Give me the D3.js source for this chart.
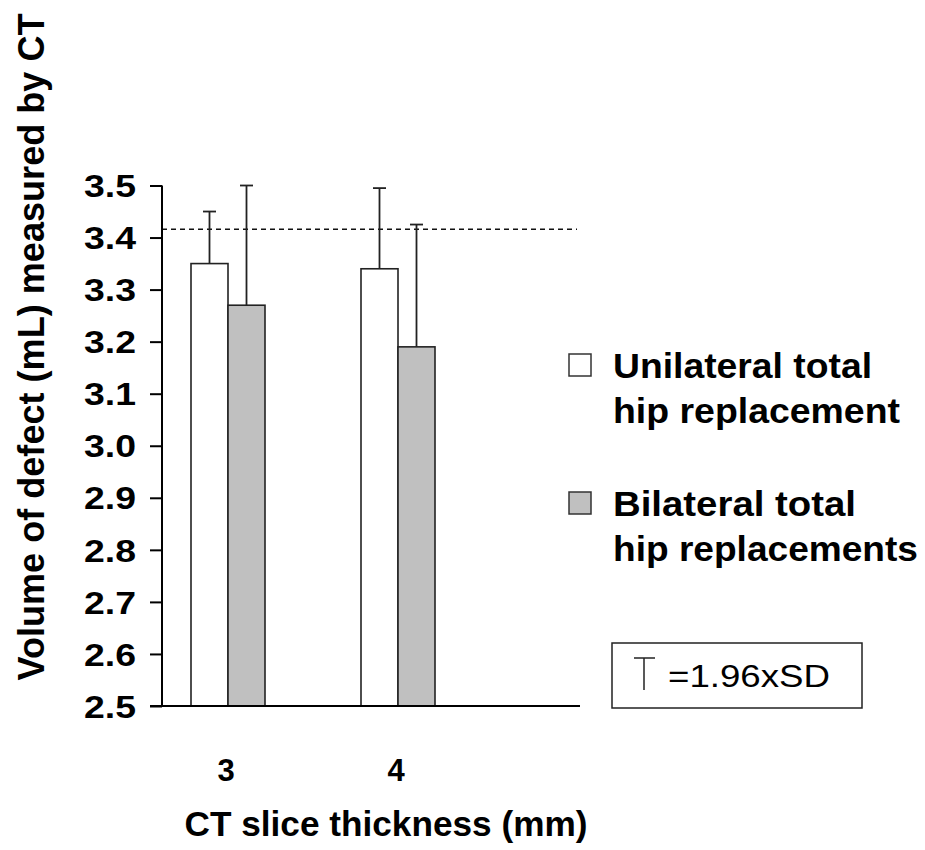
<!DOCTYPE html>
<html><head><meta charset="utf-8">
<script src="https://cdn.jsdelivr.net/npm/d3@7/dist/d3.min.js"></script>
<style>
body{margin:0;background:#fff;}
text{font-family:"Liberation Sans",Arial,sans-serif;}
</style></head>
<body><svg id="c" width="925" height="850"></svg>
<script>
const categories = ["3","4"];
const seriesNames = ["Unilateral total hip replacement","Bilateral total hip replacements"];
const unilateral = [3.35, 3.34];
const bilateral = [3.27, 3.19];
const unilateralErr = [0.10, 0.155];
const bilateralErr = [0.23, 0.235];
const referenceValue = 3.416;
const yTicks = [2.5,2.6,2.7,2.8,2.9,3.0,3.1,3.2,3.3,3.4,3.5];

const svg = d3.select("#c");
const y = d3.scaleLinear().domain([2.5,3.5]).range([706,185.5]);
const x0 = d3.scaleBand().domain(categories).range([143,483]).padding(0);
const x1 = d3.scaleBand().domain([0,1]).range([x0.bandwidth()/2-37, x0.bandwidth()/2+37]);
const fills = ["#ffffff","#c0c0c0"];
const vals = [unilateral, bilateral];
const errs = [unilateralErr, bilateralErr];

// bars
vals.forEach((arr,s)=>{
  svg.append("g").selectAll("rect").data(arr).join("rect")
    .attr("x",(d,i)=>x0(categories[i])+x1(s))
    .attr("y",d=>y(d))
    .attr("width",x1.bandwidth())
    .attr("height",d=>y(2.5)-y(d))
    .attr("fill",fills[s]).attr("stroke","#222").attr("stroke-width",1.6);
});
// reference dashed line
svg.append("line").attr("x1",162).attr("x2",577).attr("y1",y(referenceValue)).attr("y2",y(referenceValue))
  .attr("stroke","#111").attr("stroke-width",1.4).attr("stroke-dasharray","5,4");
// error bars
vals.forEach((arr,s)=>{
  const g = svg.append("g").attr("stroke","#222").attr("stroke-width",1.8);
  arr.forEach((d,i)=>{
    const cx = x0(categories[i])+x1(s)+x1.bandwidth()/2;
    const top = y(d+errs[s][i]);
    g.append("line").attr("x1",cx).attr("x2",cx).attr("y1",y(d)).attr("y2",top);
    g.append("line").attr("x1",cx-6.5).attr("x2",cx+6.5).attr("y1",top).attr("y2",top);
  });
});
// y axis
const yAxis = d3.axisLeft(y).tickValues(yTicks).tickFormat(d3.format(".1f")).tickSize(12).tickPadding(14);
const ya = svg.append("g").attr("transform","translate(162,0)").call(yAxis);
ya.select(".domain").attr("stroke","#000").attr("stroke-width",2).attr("d","M-0,185.5V706");
ya.selectAll(".tick line").attr("stroke","#000").attr("stroke-width",2);
ya.selectAll(".tick text").attr("font-size",31).attr("font-weight","bold").attr("fill","#000")
  .attr("font-family","'Liberation Sans',Arial,sans-serif").attr("dy","0.36em")
  .attr("textLength",52).attr("lengthAdjust","spacingAndGlyphs");
// x axis line
svg.append("line").attr("x1",150).attr("x2",580).attr("y1",706).attr("y2",706).attr("stroke","#000").attr("stroke-width",2);
// category labels
svg.append("g").selectAll("text").data(categories).join("text")
  .attr("x",d=>x0(d)+x0.bandwidth()/2-2).attr("y",781).attr("text-anchor","middle")
  .attr("font-size",31).attr("font-weight","bold").text(d=>d);
// axis titles
svg.append("text").attr("x",386).attr("y",836).attr("text-anchor","middle")
  .attr("font-size",35).attr("font-weight","bold")
  .attr("textLength",403).attr("lengthAdjust","spacingAndGlyphs").text("CT slice thickness (mm)");
svg.append("text").attr("transform","translate(44,347) rotate(-90)").attr("text-anchor","middle")
  .attr("font-size",36).attr("font-weight","bold")
  .attr("textLength",667).attr("lengthAdjust","spacingAndGlyphs").text("Volume of defect (mL) measured by CT");
// legend
const legLines = [["Unilateral total","hip replacement"],["Bilateral total","hip replacements"]];
const legY = [378, 516];
const legW = [[259,287],[243,305]];
legLines.forEach((lines,s)=>{
  svg.append("rect").attr("x",569).attr("y",legY[s]-24).attr("width",22).attr("height",22)
    .attr("fill",fills[s]).attr("stroke","#333").attr("stroke-width",1.5);
  lines.forEach((t,j)=>{
    svg.append("text").attr("x",613).attr("y",legY[s]+45*j).attr("font-size",35).attr("font-weight","bold")
      .attr("textLength",legW[s][j]).attr("lengthAdjust","spacingAndGlyphs").text(t);
  });
});
// SD box
svg.append("rect").attr("x",612).attr("y",643).attr("width",250).attr("height",65)
  .attr("fill","none").attr("stroke","#222").attr("stroke-width",1.5);
svg.append("line").attr("x1",644).attr("x2",644).attr("y1",658).attr("y2",690).attr("stroke","#222").attr("stroke-width",1.5);
svg.append("line").attr("x1",634).attr("x2",655).attr("y1",658).attr("y2",658).attr("stroke","#222").attr("stroke-width",1.5);
svg.append("text").attr("x",668).attr("y",687).attr("font-size",31)
  .attr("textLength",162).attr("lengthAdjust","spacingAndGlyphs").text("=1.96xSD");
</script></body></html>
